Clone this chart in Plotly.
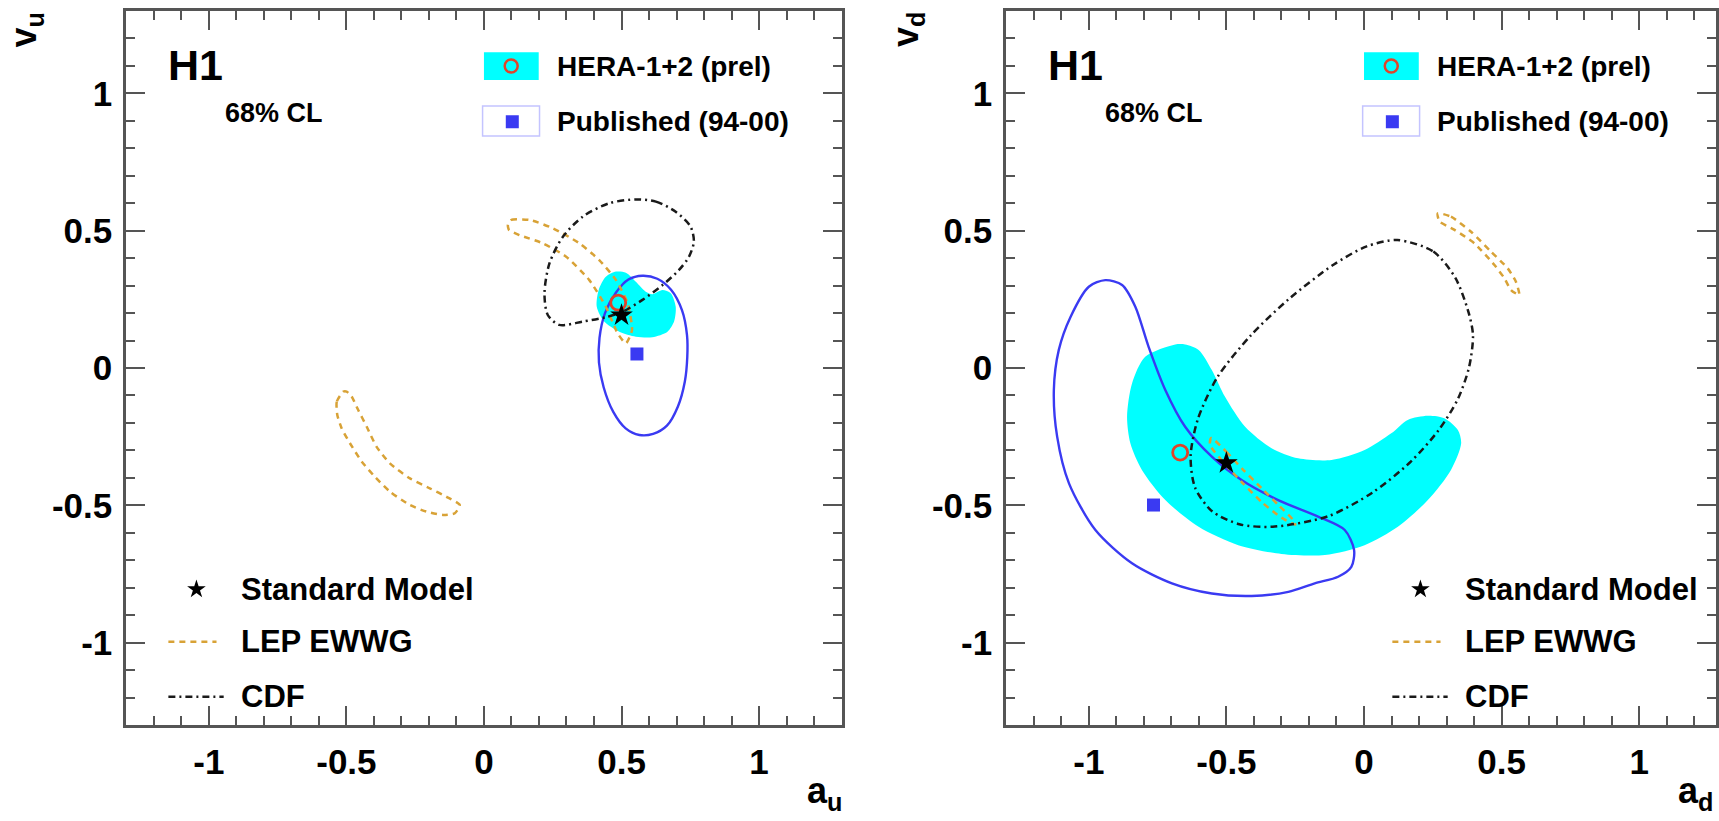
import plotly.graph_objects as go

# ---------------- data ----------------
TICK_VALS = [-1, -0.5, 0, 0.5, 1]
TICK_TEXT = ["-1", "-0.5", "0", "0.5", "1"]

# ---- u-quark panel ----
U_HERA_A = [0.480, 0.516, 0.552, 0.588, 0.612, 0.649, 0.679, 0.697, 0.691, 0.667, 0.612, 0.552,
            0.492, 0.437, 0.410, 0.417, 0.443, 0.480]
U_HERA_V = [0.351, 0.347, 0.314, 0.278, 0.269, 0.284, 0.272, 0.223, 0.169, 0.132, 0.112, 0.114,
            0.132, 0.169, 0.223, 0.284, 0.332, 0.351]
U_PUB_A = [0.576, 0.63, 0.68, 0.72, 0.738, 0.739, 0.73, 0.705, 0.665, 0.615, 0.565, 0.515,
           0.47, 0.435, 0.418, 0.42, 0.44, 0.48, 0.525, 0.576]
U_PUB_V = [0.336, 0.325, 0.285, 0.21, 0.12, 0.04, -0.05, -0.14, -0.21, -0.24, -0.244, -0.22,
           -0.16, -0.07, 0.02, 0.11, 0.20, 0.275, 0.322, 0.336]
U_LEP1_A = [0.087, 0.099, 0.166, 0.250, 0.347, 0.419, 0.480, 0.522, 0.538, 0.516,
            0.486, 0.443, 0.383, 0.299, 0.214, 0.129, 0.091, 0.087]
U_LEP1_V = [0.521, 0.539, 0.539, 0.509, 0.454, 0.393, 0.320, 0.236, 0.138, 0.090,
            0.126, 0.223, 0.320, 0.405, 0.454, 0.484, 0.503, 0.521]
U_LEP2_A = [-0.511, -0.535, -0.533, -0.517, -0.487, -0.444, -0.402, -0.342, -0.269, -0.209,
            -0.149, -0.106, -0.088, -0.136, -0.197, -0.269, -0.342, -0.390, -0.426, -0.457,
            -0.481, -0.499, -0.511]
U_LEP2_V = [-0.086, -0.123, -0.171, -0.220, -0.274, -0.341, -0.390, -0.450, -0.499, -0.523,
            -0.535, -0.529, -0.499, -0.469, -0.438, -0.402, -0.347, -0.287, -0.214, -0.153,
            -0.104, -0.086, -0.086]
U_CDF_A = [0.552, 0.625, 0.697, 0.751, 0.763, 0.745, 0.709, 0.649, 0.576, 0.504, 0.443, 0.359,
           0.274, 0.232, 0.220, 0.238, 0.287, 0.359, 0.455, 0.552]
U_CDF_V = [0.614, 0.606, 0.569, 0.515, 0.460, 0.405, 0.357, 0.302, 0.248, 0.205, 0.185, 0.169,
           0.157, 0.193, 0.272, 0.381, 0.478, 0.551, 0.600, 0.614]
U_FIT = (0.488, 0.238)
U_PUB_FIT = (0.556, 0.051)
U_SM = (0.500, 0.192)

# ---- d-quark panel ----
D_HERA_A = [-0.686, -0.795, -0.843, -0.861, -0.849, -0.807, -0.722, -0.601, -0.457, -0.300,
            -0.142, 0.002, 0.123, 0.232, 0.316, 0.353, 0.341, 0.292, 0.232, 0.159, 0.099,
            0.002, -0.118, -0.239, -0.336, -0.432, -0.505, -0.553, -0.601, -0.650, -0.686]
D_HERA_V = [0.086, 0.041, -0.056, -0.177, -0.274, -0.371, -0.481, -0.578, -0.645, -0.677,
            -0.681, -0.645, -0.578, -0.481, -0.371, -0.274, -0.226, -0.183, -0.174, -0.189,
            -0.238, -0.299, -0.335, -0.329, -0.292, -0.214, -0.105, -0.007, 0.066, 0.086, 0.086]
D_PUB_A = [-0.940, -0.879, -0.831, -0.783, -0.722, -0.650, -0.553, -0.445, -0.312, -0.167,
           -0.070, -0.036, -0.046, -0.094, -0.179, -0.275, -0.408, -0.553, -0.698, -0.843,
           -0.976, -1.072, -1.115, -1.127, -1.109, -1.066, -1.000, -0.940]
D_PUB_V = [0.320, 0.302, 0.223, 0.078, -0.080, -0.214, -0.323, -0.408, -0.481, -0.541,
           -0.590, -0.663, -0.724, -0.760, -0.784, -0.815, -0.830, -0.821, -0.784, -0.711,
           -0.590, -0.420, -0.250, -0.080, 0.066, 0.187, 0.296, 0.320]
D_LEP1_A = [0.268, 0.316, 0.389, 0.461, 0.522, 0.552, 0.564, 0.534, 0.510, 0.474, 0.401,
            0.329, 0.274, 0.268]
D_LEP1_V = [0.563, 0.551, 0.496, 0.424, 0.363, 0.314, 0.266, 0.284, 0.327, 0.375, 0.454,
            0.503, 0.534, 0.563]
D_LEP2_A = [-0.555, -0.50, -0.44, -0.37, -0.31, -0.26, -0.25, -0.30, -0.37, -0.44, -0.50,
            -0.56, -0.555]
D_LEP2_V = [-0.255, -0.305, -0.37, -0.44, -0.50, -0.55, -0.57, -0.545, -0.49, -0.42, -0.355,
            -0.28, -0.255]
D_CDF_A = [0.121, 0.252, 0.332, 0.382, 0.396, 0.382, 0.342, 0.272, 0.171, 0.030, -0.131,
           -0.332, -0.453, -0.553, -0.614, -0.630, -0.604, -0.533, -0.412, -0.272, -0.111,
           0.010, 0.121]
D_CDF_V = [0.466, 0.424, 0.328, 0.195, 0.118, 0.004, -0.111, -0.225, -0.340, -0.454, -0.540,
           -0.578, -0.569, -0.521, -0.435, -0.321, -0.187, -0.034, 0.118, 0.252, 0.376,
           0.443, 0.466]
D_FIT = (-0.668, -0.308)
D_PUB_FIT = (-0.765, -0.499)
D_SM = (-0.500, -0.346)

# ---------------- styles ----------------
FONT = "Liberation Sans, Arial, Helvetica, sans-serif"
CYAN = "#00ffff"
RED = "#e0442a"
BLUE = "#3a3af2"
GOLD = "#d8a236"
DARK = "#1a1a1a"
FRAME = "#555555"
LEP_DASH = "6px,5px"
CDF_DASH = "7px,4px,2px,4px"

fig = go.Figure()


def add_panel(xa, ya, hera, pub, lep1, lep2, cdf, fit, pubfit, sm):
    fig.add_trace(go.Scatter(x=hera[0], y=hera[1], mode="lines", fill="toself", fillcolor=CYAN,
                             line=dict(width=0, color=CYAN, shape="spline", smoothing=0.8),
                             xaxis=xa, yaxis=ya, hoverinfo="skip"))
    fig.add_trace(go.Scatter(x=pub[0], y=pub[1], mode="lines",
                             line=dict(width=2.4, color=BLUE, shape="spline", smoothing=0.8),
                             xaxis=xa, yaxis=ya))
    for lep in (lep1, lep2):
        fig.add_trace(go.Scatter(x=lep[0], y=lep[1], mode="lines",
                                 line=dict(width=2.5, color=GOLD, dash=LEP_DASH, shape="spline",
                                           smoothing=0.6),
                                 xaxis=xa, yaxis=ya))
    fig.add_trace(go.Scatter(x=cdf[0], y=cdf[1], mode="lines",
                             line=dict(width=2.5, color=DARK, dash=CDF_DASH, shape="spline",
                                       smoothing=0.8),
                             xaxis=xa, yaxis=ya))
    fig.add_trace(go.Scatter(x=[pubfit[0]], y=[pubfit[1]], mode="markers",
                             marker=dict(symbol="square", size=13, color=BLUE),
                             xaxis=xa, yaxis=ya))
    fig.add_trace(go.Scatter(x=[fit[0]], y=[fit[1]], mode="markers",
                             marker=dict(symbol="circle-open", size=15, color=RED,
                                         line=dict(width=2.8, color=RED)),
                             xaxis=xa, yaxis=ya))
    fig.add_trace(go.Scatter(x=[sm[0]], y=[sm[1]], mode="markers",
                             marker=dict(symbol="star", size=17, color="black"),
                             xaxis=xa, yaxis=ya))


def add_legend(xa, ya, xref, yref, off):
    # top-right legend (same place in both panels)
    fig.add_shape(type="rect", x0=0.0, x1=0.199, y0=1.049, y1=1.150, xref=xref, yref=yref,
                  fillcolor=CYAN, line=dict(width=0), layer="below")
    fig.add_shape(type="rect", x0=-0.005, x1=0.202, y0=0.845, y1=0.954, xref=xref, yref=yref,
                  fillcolor="white", line=dict(width=1.5, color="#c4c4ff"), layer="below")
    fig.add_trace(go.Scatter(x=[0.099], y=[1.100], mode="markers",
                             marker=dict(symbol="circle-open", size=13, color=RED,
                                         line=dict(width=2.5, color=RED)),
                             xaxis=xa, yaxis=ya))
    fig.add_trace(go.Scatter(x=[0.103], y=[0.897], mode="markers",
                             marker=dict(symbol="square", size=13, color=BLUE),
                             xaxis=xa, yaxis=ya))
    for txt, yv in (("HERA-1+2 (prel)", 1.097), ("Published (94-00)", 0.897)):
        fig.add_annotation(x=0.258, y=yv, xref=xref, yref=yref, text=txt, showarrow=False,
                           xanchor="left", yanchor="middle",
                           font=dict(family=FONT, size=28, color="black", weight="bold"))
    fig.add_annotation(x=-1.047, y=1.102, xref=xref, yref=yref, text="H1", showarrow=False,
                       xanchor="center", yanchor="middle",
                       font=dict(family=FONT, size=43, color="black", weight="bold"))
    fig.add_annotation(x=-0.762, y=0.929, xref=xref, yref=yref, text="68% CL", showarrow=False,
                       xanchor="center", yanchor="middle",
                       font=dict(family=FONT, size=27, color="black", weight="bold"))
    # bottom legend (shifted by `off` in a)
    fig.add_trace(go.Scatter(x=[-1.045 + off], y=[-0.806], mode="markers",
                             marker=dict(symbol="star", size=14, color="black"),
                             xaxis=xa, yaxis=ya))
    fig.add_trace(go.Scatter(x=[-1.147 + off, -0.972 + off], y=[-0.997, -0.997], mode="lines",
                             line=dict(width=2.6, color=GOLD, dash=LEP_DASH),
                             xaxis=xa, yaxis=ya))
    fig.add_trace(go.Scatter(x=[-1.147 + off, -0.946 + off], y=[-1.197, -1.197], mode="lines",
                             line=dict(width=2.6, color=DARK, dash=CDF_DASH),
                             xaxis=xa, yaxis=ya))
    for txt, yv in (("Standard Model", -0.806), ("LEP EWWG", -0.997), ("CDF", -1.197)):
        fig.add_annotation(x=-0.891 + off, y=yv, xref=xref, yref=yref, text=txt, showarrow=False,
                           xanchor="left", yanchor="middle",
                           font=dict(family=FONT, size=31, color="black", weight="bold"))


add_panel("x", "y", (U_HERA_A, U_HERA_V), (U_PUB_A, U_PUB_V), (U_LEP1_A, U_LEP1_V),
          (U_LEP2_A, U_LEP2_V), (U_CDF_A, U_CDF_V), U_FIT, U_PUB_FIT, U_SM)
add_panel("x2", "y2", (D_HERA_A, D_HERA_V), (D_PUB_A, D_PUB_V), (D_LEP1_A, D_LEP1_V),
          (D_LEP2_A, D_LEP2_V), (D_CDF_A, D_CDF_V), D_FIT, D_PUB_FIT, D_SM)
add_legend("x", "y", "x", "y", 0.0)
add_legend("x2", "y2", "x2", "y2", 1.25)

W, H = 1719, 821


def axis_style(rng, domain, anchor):
    return dict(range=rng, domain=domain, anchor=anchor, showgrid=False, zeroline=False,
                showline=True, linewidth=3, linecolor=FRAME, mirror="allticks",
                ticks="inside", ticklen=19, tickwidth=2, tickcolor=FRAME,
                tickvals=TICK_VALS, ticktext=TICK_TEXT,
                minor=dict(ticks="inside", dtick=0.1, tick0=0, ticklen=9, tickwidth=2,
                           tickcolor=FRAME, showgrid=False),
                tickfont=dict(family=FONT, size=35, color="black", weight="bold"),
                fixedrange=True)


ydom = [1 - 725 / H, 1 - 11 / H]
fig.update_layout(
    width=W, height=H, margin=dict(l=0, r=0, t=0, b=0),
    paper_bgcolor="white", plot_bgcolor="white", showlegend=False,
    xaxis=axis_style([-1.3, 1.3], [126.5 / W, 843.1 / W], "y"),
    yaxis=axis_style([-1.3, 1.3], ydom, "x"),
    xaxis2=axis_style([-1.3, (W - 1366) / 276.0], [1008.0 / W, 1.0], "y2"),
    yaxis2=axis_style([-1.3, 1.3], ydom, "x2"),
)
fig.update_yaxes(ticklabelstandoff=4)
fig.update_xaxes(ticklabelstandoff=4)

# axis titles
for txt, xp in (("v<sub>u</sub>", 27), ("v<sub>d</sub>", 910)):
    fig.add_annotation(x=xp / W, y=1 - 10 / H, xref="paper", yref="paper", text=txt,
                       showarrow=False, textangle=-90, xanchor="center", yanchor="top",
                       font=dict(family=FONT, size=36, color="black", weight="bold"))
for txt, xp in (("a<sub>u</sub>", 845), ("a<sub>d</sub>", 1718)):
    fig.add_annotation(x=xp / W, y=1 - 768 / H, xref="paper", yref="paper", text=txt,
                       showarrow=False, xanchor="right", yanchor="top",
                       font=dict(family=FONT, size=36, color="black", weight="bold"))

fig.write_html("out.html")
